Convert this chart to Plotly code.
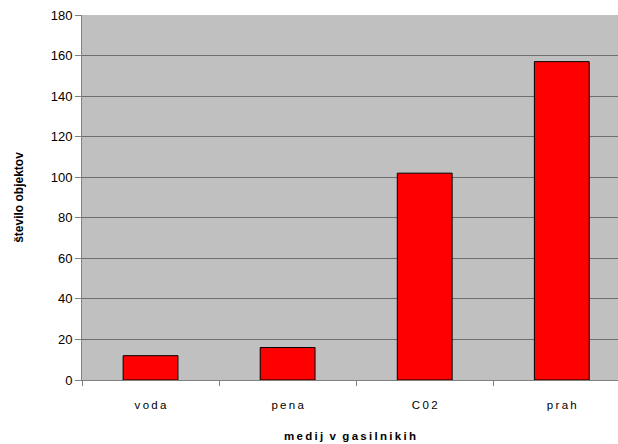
import plotly.graph_objects as go

# Fire extinguisher media and number of objects using each
categories = ["voda", "pena", "C02", "prah"]
counts = [12, 16, 102, 157]

y_ticks = [0, 20, 40, 60, 80, 100, 120, 140, 160, 180]


def spaced(text, sep="\u2009"):
    """Spread the letters of a label with thin spaces."""
    return sep.join(text)


fig = go.Figure(
    go.Bar(
        x=categories,
        y=counts,
        width=0.4,
        marker=dict(color="#FF0000", line=dict(color="#000000", width=1)),
    )
)

fig.update_layout(
    width=618,
    height=444,
    margin=dict(l=82, r=0, t=15, b=64),
    paper_bgcolor="white",
    plot_bgcolor="#C0C0C0",
    showlegend=False,
    font=dict(family="Liberation Sans, Arial, sans-serif", color="#000000"),
)

fig.update_xaxes(
    type="category",
    range=[-0.5, 3.41],
    tickson="boundaries",
    ticks="outside",
    ticklen=5,
    tickcolor="#808080",
    showline=True,
    linecolor="#808080",
    linewidth=1,
    showgrid=False,
    tickfont=dict(size=11.5),
    ticklabelstandoff=14,
    tickvals=categories,
    ticktext=[spaced(c) for c in categories],
    title=dict(
        text="<b>" + "\u00a0\u00a0".join(spaced(w, "\u2009") for w in ["medij", "v", "gasilnikih"]) + "</b>",
        font=dict(size=11.5),
        standoff=22,
    ),
)

fig.update_yaxes(
    range=[0, 180],
    tickvals=y_ticks,
    ticks="outside",
    ticklen=6,
    tickcolor="#808080",
    showline=True,
    linecolor="#808080",
    linewidth=1,
    showgrid=True,
    gridcolor="#6E6E6E",
    gridwidth=1,
    zeroline=False,
    tickfont=dict(size=13),
    title=dict(text="<b>število objektov</b>", font=dict(size=12), standoff=24),
)

fig.write_html("out.html")
